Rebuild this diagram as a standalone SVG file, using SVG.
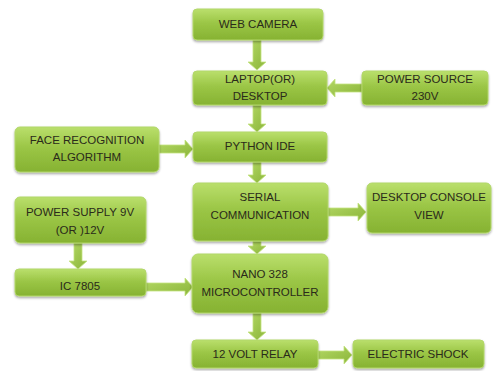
<svg xmlns="http://www.w3.org/2000/svg" width="494" height="371" viewBox="0 0 494 371">
<defs>
<linearGradient id="bg" x1="0" y1="0" x2="0" y2="1">
<stop offset="0" stop-color="#badf6c"/>
<stop offset="0.45" stop-color="#9bc646"/>
<stop offset="1" stop-color="#86b232"/>
</linearGradient>
<linearGradient id="ag" x1="0" y1="0" x2="1" y2="1">
<stop offset="0" stop-color="#b3d864"/>
<stop offset="1" stop-color="#8bb53a"/>
</linearGradient>
<filter id="sh" x="-10%" y="-10%" width="130%" height="140%">
<feDropShadow dx="0" dy="1.5" stdDeviation="1.2" flood-color="#000" flood-opacity="0.35"/>
</filter>
</defs>
<style>
.box{fill:url(#bg);stroke:#b2d76a;stroke-width:1;filter:url(#sh)}
.arr{fill:url(#ag);stroke:#c4e382;stroke-width:0.8}
text{font-family:"Liberation Sans",Arial,sans-serif;font-size:11.5px;fill:#2a2a1a;text-anchor:middle;dominant-baseline:middle}
</style>
<rect width="494" height="371" fill="#ffffff"/>
<g id="connectors">
<path class="arr" d="M253,40 H261 V62 H266 L257,70 L248,62 H253 Z"/>
<path class="arr" d="M253,105 H261 V124 H266 L257,132 L248,124 H253 Z"/>
<path class="arr" d="M253,162 H261 V175 H266 L257,183 L248,175 H253 Z"/>
<path class="arr" d="M253,241 H261 V246 H266 L257,254 L248,246 H253 Z"/>
<path class="arr" d="M253,313 H261 V332 H266 L257,340 L248,332 H253 Z"/>
<path class="arr" d="M74,243 H82 V261 H87 L78,269 L69,261 H74 Z"/>
<path class="arr" d="M159,145 V153 H185 V158 L193,149 L185,140 V145 Z"/>
<path class="arr" d="M146,283 V291 H185 V296 L193,287 L185,278 V283 Z"/>
<path class="arr" d="M328,208 V216 H358 V221 L366,212 L358,203 V208 Z"/>
<path class="arr" d="M318,351 V359 H344 V364 L352,355 L344,346 V351 Z"/>
<path class="arr" d="M362,84 V92 H335 V97 L327,88 L335,79 V84 Z"/>
</g>
<g id="webcam"><rect class="box" x="193" y="9" width="130" height="31" rx="4"/><text x="258" y="25">WEB CAMERA</text></g>
<g id="laptop"><rect class="box" x="193" y="71" width="134" height="34" rx="4"/><text x="260" y="80">LAPTOP(OR)</text><text x="260" y="97">DESKTOP</text></g>
<g id="powersource"><rect class="box" x="362" y="71" width="126" height="34" rx="4"/><text x="425" y="80">POWER SOURCE</text><text x="425" y="97">230V</text></g>
<g id="face"><rect class="box" x="15" y="127" width="144" height="45" rx="5"/><text x="87" y="141">FACE RECOGNITION</text><text x="87" y="158">ALGORITHM</text></g>
<g id="python"><rect class="box" x="193" y="132" width="134" height="30" rx="4"/><text x="260" y="147">PYTHON IDE</text></g>
<g id="serial"><rect class="box" x="193" y="183" width="135" height="58" rx="5"/><text x="260" y="198">SERIAL</text><text x="260" y="216">COMMUNICATION</text></g>
<g id="console"><rect class="box" x="367" y="183" width="124" height="50" rx="5"/><text x="429" y="198">DESKTOP CONSOLE</text><text x="429" y="216">VIEW</text></g>
<g id="psupply"><rect class="box" x="15" y="197" width="131" height="46" rx="5"/><text x="80" y="213">POWER SUPPLY 9V</text><text x="80" y="231">(OR )12V</text></g>
<g id="ic"><rect class="box" x="15" y="269" width="131" height="27" rx="4"/><text x="80" y="287">IC 7805</text></g>
<g id="nano"><rect class="box" x="192" y="254" width="136" height="59" rx="6"/><text x="260" y="275">NANO 328</text><text x="260" y="293">MICROCONTROLLER</text></g>
<g id="relay"><rect class="box" x="192" y="340" width="126" height="28" rx="4"/><text x="255" y="355">12 VOLT RELAY</text></g>
<g id="shock"><rect class="box" x="353" y="340" width="131" height="28" rx="4"/><text x="418" y="355">ELECTRIC SHOCK</text></g>
</svg>
